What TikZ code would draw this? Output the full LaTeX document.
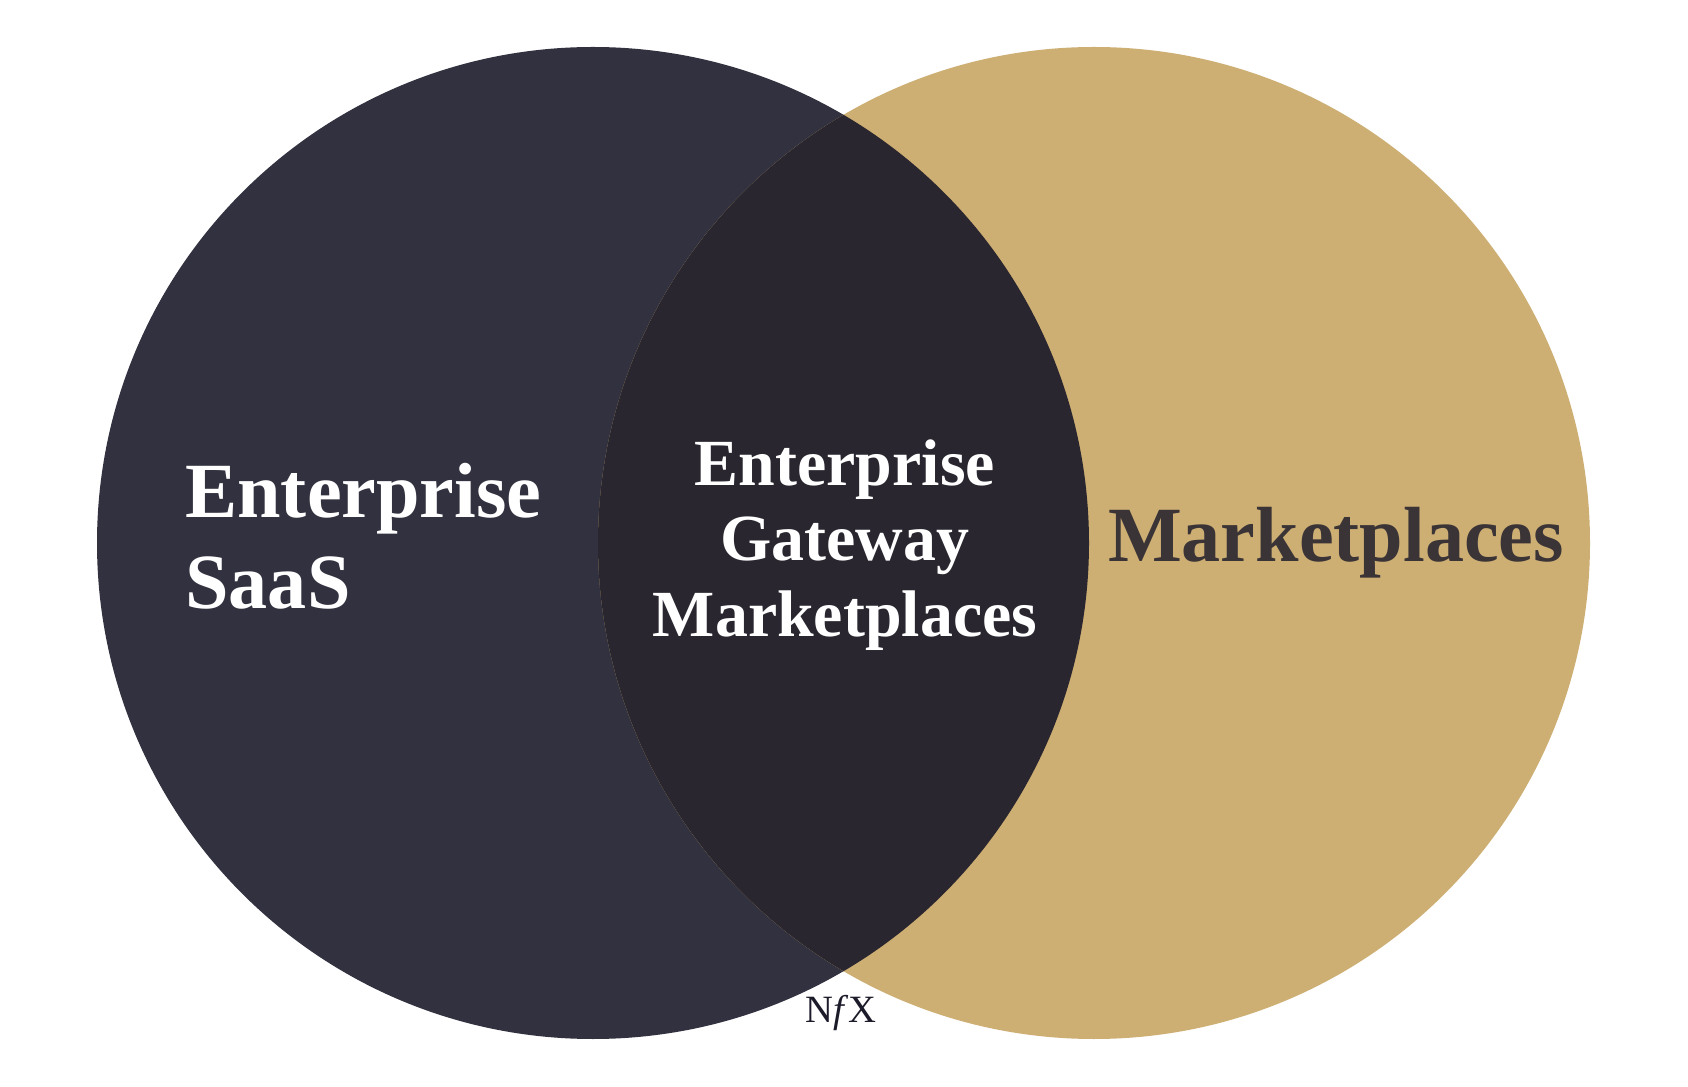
\documentclass[tikz,border=0pt]{standalone}
\usepackage{fontspec}
\setmainfont{Liberation Serif}
\definecolor{saasnavy}{HTML}{31313F}
\definecolor{overlapdark}{HTML}{29262F}
\definecolor{markettan}{HTML}{CDAE73}
\definecolor{markettext}{HTML}{3A3437}
\definecolor{logoink}{HTML}{1C1B2A}
\begin{document}
\begin{tikzpicture}[
            x=0.02cm,
            y=-0.02cm,
            every node/.style={
                inner sep=0pt,
                align=center
            },
            biglabel/.style={
                font=\bfseries\fontsize{44.5}{52}\selectfont
            },
            midlabel/.style={
                font=\bfseries\fontsize{37.5}{43}\selectfont,
                text=white
            }
        ]
            \useasboundingbox (0,0) rectangle (1688,1087);

            \coordinate (left) at (593,543);
            \coordinate (right) at (1094,543);

            % the two sets and their overlap
            \fill[saasnavy] (left) circle [radius=496];
            \fill[markettan] (right) circle [radius=496];
            \begin{scope}
                \clip (left) circle [radius=496];
                \fill[overlapdark] (right) circle [radius=496];
            \end{scope}

            \node[biglabel, text=white, anchor=west, align=left] (saas) at (185,536) {Enterprise\\SaaS};
            \node[midlabel] (gateway) at (845,545) {Enterprise\\Gateway\\Marketplaces};
            \node[biglabel, text=markettext] (market) at (1336,543) {Marketplaces};

            \node[anchor=base, text=logoink, font=\fontsize{22}{22}\selectfont] (logo) at (841,1022) {N\textit{f}X};
        \end{tikzpicture}
\end{document}
